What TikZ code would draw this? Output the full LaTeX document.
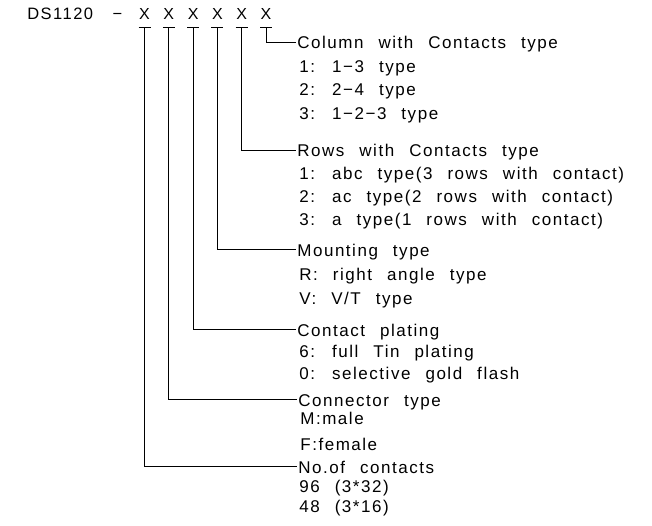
\documentclass[tikz,border=0pt]{standalone}
\usepackage{fontspec}
\usepackage{tikz}

\setmainfont{Liberation Sans}[LetterSpace=9,WordSpace=2.4]
\newfontfamily\markfont{Liberation Sans}

\begin{document}
\begin{tikzpicture}[x=1pt, y=-1pt, line width=0.7pt,
        title/.style={anchor=base west, inner sep=0pt, font=\fontsize{16.5}{16.5}\selectfont},
        xmark/.style={anchor=base, inner sep=0pt, text depth=7pt, font=\markfont\fontsize{16}{16}\selectfont},
        head/.style={anchor=base west, inner sep=1pt, text height=14pt, text depth=0pt, font=\fontsize{17}{17}\selectfont},
        item/.style={anchor=base west, inner sep=1pt, font=\fontsize{17}{17}\selectfont}]
        \useasboundingbox (0,0) rectangle (652,526);

        % Part number
        \node[title] (code) at (27,20) {DS1120\hspace{5pt} −};
        \node[xmark] (x1) at (144.5,20) {X};
        \node[xmark] (x2) at (168.8,20) {X};
        \node[xmark] (x3) at (193.1,20) {X};
        \node[xmark] (x4) at (217.4,20) {X};
        \node[xmark] (x5) at (241.7,20) {X};
        \node[xmark] (x6) at (266,20) {X};

        % Bars under the X marks
        \draw ([xshift=-6pt]x1.south) -- ([xshift=6pt]x1.south);
        \draw ([xshift=-6pt]x2.south) -- ([xshift=6pt]x2.south);
        \draw ([xshift=-6pt]x3.south) -- ([xshift=6pt]x3.south);
        \draw ([xshift=-6pt]x4.south) -- ([xshift=6pt]x4.south);
        \draw ([xshift=-6pt]x5.south) -- ([xshift=6pt]x5.south);
        \draw ([xshift=-6pt]x6.south) -- ([xshift=6pt]x6.south);

        % Column with contacts
        \node[head] (colhead) at (296,49) {Column with Contacts type};
        \node[item] (col1) at (298,73) {1: 1−3 type};
        \node[item] (col2) at (298,96) {2: 2−4 type};
        \node[item] (col3) at (298,120) {3: 1−2−3 type};

        % Rows with contacts
        \node[head] (rowhead) at (296,157) {Rows with Contacts type};
        \node[item] (row1) at (298,180) {1: abc type(3 rows with contact)};
        \node[item] (row2) at (298,203) {2: ac type(2 rows with contact)};
        \node[item] (row3) at (298,226) {3: a type(1 rows with contact)};

        % Mounting
        \node[head] (mounthead) at (296,256) {Mounting type};
        \node[item] (mount1) at (298,280) {R: right angle type};
        \node[item] (mount2) at (298,304) {V: V/T type};

        % Plating
        \node[head] (platehead) at (296,336) {Contact plating};
        \node[item] (plate1) at (298,357) {6: full Tin plating};
        \node[item] (plate2) at (298,379) {0: selective gold flash};

        % Connector
        \node[head] (connhead) at (297,406) {Connector type};
        \node[item] (conn1) at (299,424) {M:male};
        \node[item] (conn2) at (299,450) {F:female};

        % Number of contacts
        \node[head] (numhead) at (297,473) {No.of contacts};
        \node[item] (num1) at (298,492) {96 (3*32)};
        \node[item] (num2) at (298,512) {48 (3*16)};

        % Leader lines
        \draw (x6.south) |- (colhead.west);
        \draw (x5.south) |- (rowhead.west);
        \draw (x4.south) |- (mounthead.west);
        \draw (x3.south) |- (platehead.west);
        \draw (x2.south) |- (connhead.west);
        \draw (x1.south) |- (numhead.west);
    \end{tikzpicture}
\end{document}
